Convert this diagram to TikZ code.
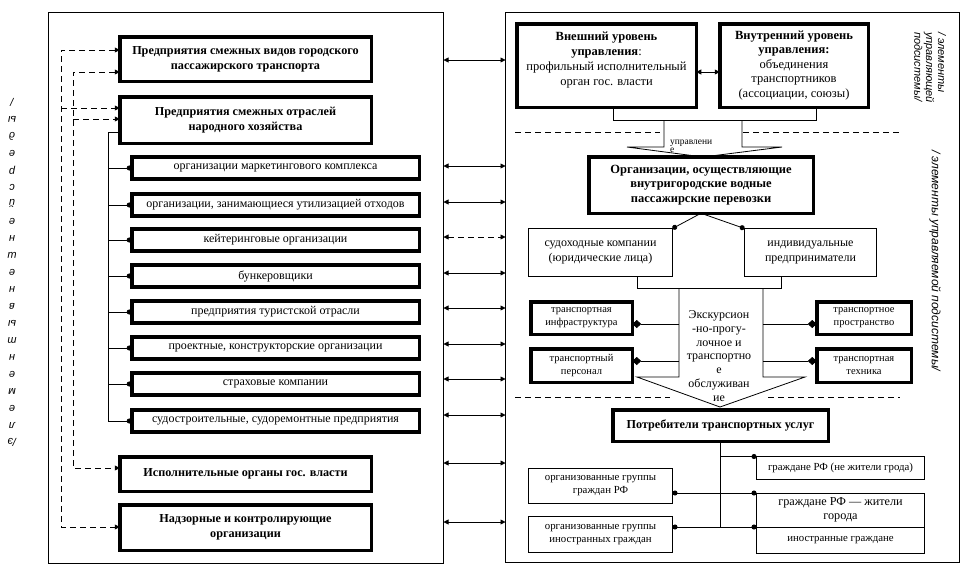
\documentclass[tikz,border=0pt]{standalone}
\usepackage{fontspec}
\setmainfont{Liberation Serif}
\newfontfamily\vsansfont{Liberation Sans}
\usetikzlibrary{arrows.meta}
\begin{document}
\begin{tikzpicture}[x=1pt,y=-1pt,
  every node/.style={inner sep=0pt, outer sep=0pt},
  tbox/.style={draw, line width=3.5pt, align=center, font=\fontsize{12}{13}\selectfont},
  hbox/.style={tbox, font=\bfseries\fontsize{12.2}{15}\selectfont},
  nbox/.style={draw, line width=0.8pt, align=center, font=\fontsize{12}{15}\selectfont},
  sbox/.style={tbox, font=\fontsize{10.5}{13}\selectfont},
  pbox/.style={nbox, font=\fontsize{10.8}{13}\selectfont},
  panel/.style={draw, line width=1pt},
  ln/.style={line width=0.8pt},
  dl/.style={line width=0.8pt, dash pattern=on 6pt off 4pt},
  tipA/.style={-{Triangle[length=5pt,width=5pt]}},
  tipAA/.style={{Triangle[length=5pt,width=5pt]}-{Triangle[length=5pt,width=5pt]}},
  tipC/.style={-{Circle[length=5pt]}},
  tipCC/.style={{Circle[length=5pt]}-{Circle[length=5pt]}},
  tipD/.style={-{Diamond[length=9pt,width=8pt]}},
  vch/.style={rotate=180, font=\vsansfont\itshape\fontsize{11}{12}\selectfont},
  vtxt/.style={rotate=-90, align=left, font=\vsansfont\itshape\fontsize{11}{11.8}\selectfont}
]
\useasboundingbox (0,0) rectangle (973,566);
% panels
\node[panel, minimum width=395, minimum height=551] (LP) at (246,288) {};
\node[panel, minimum width=454, minimum height=550] (RP) at (732.5,287.5) {};

% left boxes
\node[hbox, minimum width=251.5, minimum height=44.5] (b1) at (245.5,59) {Предприятия смежных видов городского\\пассажирского транспорта};
\node[hbox, minimum width=251.5, minimum height=46.5] (b2) at (245.5,120) {Предприятия смежных отраслей\\народного хозяйства};
\node[tbox, minimum width=287.5, minimum height=22] (s1) at (275.5,168) {организации маркетингового комплекса};
\node[tbox, minimum width=287.5, minimum height=22] (s2) at (275.5,205) {организации, занимающиеся утилизацией отходов};
\node[tbox, minimum width=287.5, minimum height=22] (s3) at (275.5,240) {кейтеринговые организации};
\node[tbox, minimum width=287.5, minimum height=22] (s4) at (275.5,276) {бункеровщики};
\node[tbox, minimum width=287.5, minimum height=22] (s5) at (275.5,312) {предприятия туристской отрасли};
\node[tbox, minimum width=287.5, minimum height=22] (s6) at (275.5,348) {проектные, конструкторские организации};
\node[tbox, minimum width=287.5, minimum height=22] (s7) at (275.5,384) {страховые компании};
\node[tbox, minimum width=287.5, minimum height=22] (s8) at (275.5,421) {судостроительные, судоремонтные предприятия};
\node[hbox, minimum width=251.5, minimum height=34.5] (b3) at (245.5,474) {Исполнительные органы гос. власти};
\node[hbox, minimum width=251.5, minimum height=45.5] (b4) at (245.5,527.5) {Надзорные и контролирующие\\организации};

% tree
\coordinate (t0) at (108,132);
\coordinate (tB) at (108,421);
\draw[ln] (b2.west |- t0) -- (t0) -- (tB);
\foreach \s in {s1,s2,s3,s4,s5,s6,s7,s8}
  \draw[ln,tipC] (t0 |- \s) -- (\s.west);

% dashed links
\coordinate (o1) at (61,50); \coordinate (o2) at (61,108); \coordinate (o3) at (61,527);
\coordinate (i1) at (73,72); \coordinate (i2) at (73,119); \coordinate (i3) at (73,468);
\draw[dl,tipAA] (b1.west |- o1) -- (o1) -- (o3) -- (b4.west |- o3);
\draw[dl,tipA] (o2) -- (b2.west |- o2);
\draw[dl,tipAA] (b1.west |- i1) -- (i1) -- (i3) -- (b3.west |- i3);
\draw[dl,tipA] (i2) -- (b2.west |- i2);

% left vertical label
\foreach \c [count=\i] in {/,ы,д,е,р,с,й,е,н,ш,е,н,в,ы,т,н,е,м,е,л,{/э}}
  \node[vch] (v\i) at (12,85+17*\i) {\c};

% middle arrows
\foreach \y [count=\i] in {60,166,202,273,308,344,379,415,463,522}{
  \coordinate (m\i) at (474,\y);
  \draw[ln,tipAA] (LP.east |- m\i) -- (RP.west |- m\i);
}
\coordinate (md) at (474,237);
\draw[dl,tipAA] (LP.east |- md) -- (RP.west |- md);

% right top
\node[tbox, minimum width=179.5, minimum height=83.5] (ext) at (606.5,65.5) {};
\node[font=\fontsize{12.5}{15}\selectfont, align=center] (extT) at (606.5,60) {\textbf{Внешний уровень}\\\textbf{управления}:\\профильный исполнительный\\орган гос. власти};
\node[tbox, minimum width=148.5, minimum height=83.5, font=\fontsize{12.5}{14.5}\selectfont] (int) at (794,65.5) {\textbf{Внутренний уровень}\\\textbf{управления:}\\объединения\\транспортников\\(ассоциации, союзы)};
\coordinate (ei) at (708,72);
\draw[ln,tipAA] (ext.east |- ei) -- (int.west |- ei);

\coordinate (f1) at (613,120); \coordinate (f2) at (816,120);
\draw[ln] (ext.south -| f1) -- (f1) -- (f2) -- (int.south -| f2);
\draw[ln] (664,120) -- (664,147) -- (627,147) -- (703,157) -- (782,147) -- (742,147) -- (742,120);

\draw[dl] (515,132) -- (660,132);
\draw[dl] (743,132) -- (902,132);
\draw[dl] (515,397) -- (670,397);
\draw[dl] (768,397) -- (900,397);

\node[hbox, font=\bfseries\fontsize{12.5}{14.5}\selectfont, minimum width=224.5, minimum height=56.5] (org) at (701,185) {Организации, осуществляющие\\внутригородские водные\\пассажирские перевозки};
\node[font=\fontsize{9.5}{8}\selectfont, align=left, anchor=west] (upr) at (670,146) {управлени\\е};

\node[nbox, minimum width=144, minimum height=48] (sud) at (600.5,252.5) {судоходные компании\\(юридические лица)};
\node[nbox, minimum width=132, minimum height=48] (ind) at (810.5,252.5) {индивидуальные\\предприниматели};
\draw[ln,tipC] (org.south) -- (sud.north east);
\draw[ln,tipC] (org.south) -- (ind.north west);

\coordinate (f3) at (637,288); \coordinate (f4) at (781,288);
\draw[ln] (sud.south -| f3) -- (f3) -- (f4) -- (ind.south -| f4);
\draw[ln] (679,288) -- (679,377) -- (637,377) -- (720,407) -- (805,377) -- (763,377) -- (763,288);

\node[sbox, minimum width=101.5, minimum height=32.5] (inf) at (581.5,318) {транспортная\\инфраструктура};
\node[sbox, minimum width=101.5, minimum height=33.5] (pers) at (581.5,365.5) {транспортный\\персонал};
\node[sbox, minimum width=94.5, minimum height=32.5] (prost) at (864,318) {транспортное\\пространство};
\node[sbox, minimum width=94.5, minimum height=33.5] (tech) at (864,365.5) {транспортная\\техника};
\coordinate (dA) at (679,324); \coordinate (dB) at (679,361);
\coordinate (dC) at (763,324); \coordinate (dD) at (763,361);
\draw[ln,tipD] (dA) -- (inf.east |- dA);
\draw[ln,tipD] (dB) -- (pers.east |- dB);
\draw[ln,tipD] (dC) -- (prost.west |- dC);
\draw[ln,tipD] (dD) -- (tech.west |- dD);

\node[font=\fontsize{12}{13.7}\selectfont, align=center] (ekT) at (719,356) {Экскурсион\\-но-прогу-\\лочное и\\транспортно\\е\\обслуживан\\ие};

\node[hbox, font=\bfseries\fontsize{12.2}{14}\selectfont, minimum width=215.5, minimum height=31.5] (potr) at (720.5,425.5) {Потребители транспортных услуг};

\node[pbox, minimum width=168, minimum height=23] (gne) at (840.5,468) {граждане РФ (не жители грода)};
\node[pbox, minimum width=144, minimum height=35] (ogr1) at (600.5,486) {организованные группы\\граждан РФ};
\node[pbox, minimum width=144, minimum height=36] (ogr2) at (600.5,534.5) {организованные группы\\иностранных граждан};
\node[pbox, font=\fontsize{12.2}{13.5}\selectfont, minimum width=168, minimum height=34] (gzh1) at (840.5,510) {граждане РФ — жители\\города};
\node[pbox, minimum width=168, minimum height=26] (gzh2) at (840.5,540) {иностранные граждане};

\draw[ln] (potr.south) -- (potr.south |- gzh2.north west);
\draw[ln,tipC] (potr.south |- gne.north west) -- (gne.north west);
\draw[ln,tipCC] (ogr1.east |- gzh1.north west) -- (gzh1.north west);
\draw[ln,tipCC] (ogr2.east |- gzh2.north west) -- (gzh2.north west);

% right vertical labels
\node[vtxt, anchor=north west] (vt1) at (946,32) {/ элементы\\управляющей\\подсистемы/};
\node[vtxt, anchor=west, font=\vsansfont\itshape\fontsize{12}{12}\selectfont] (vt2) at (935,150) {/ элементы управляемой подсистемы/};
\end{tikzpicture}
\end{document}
